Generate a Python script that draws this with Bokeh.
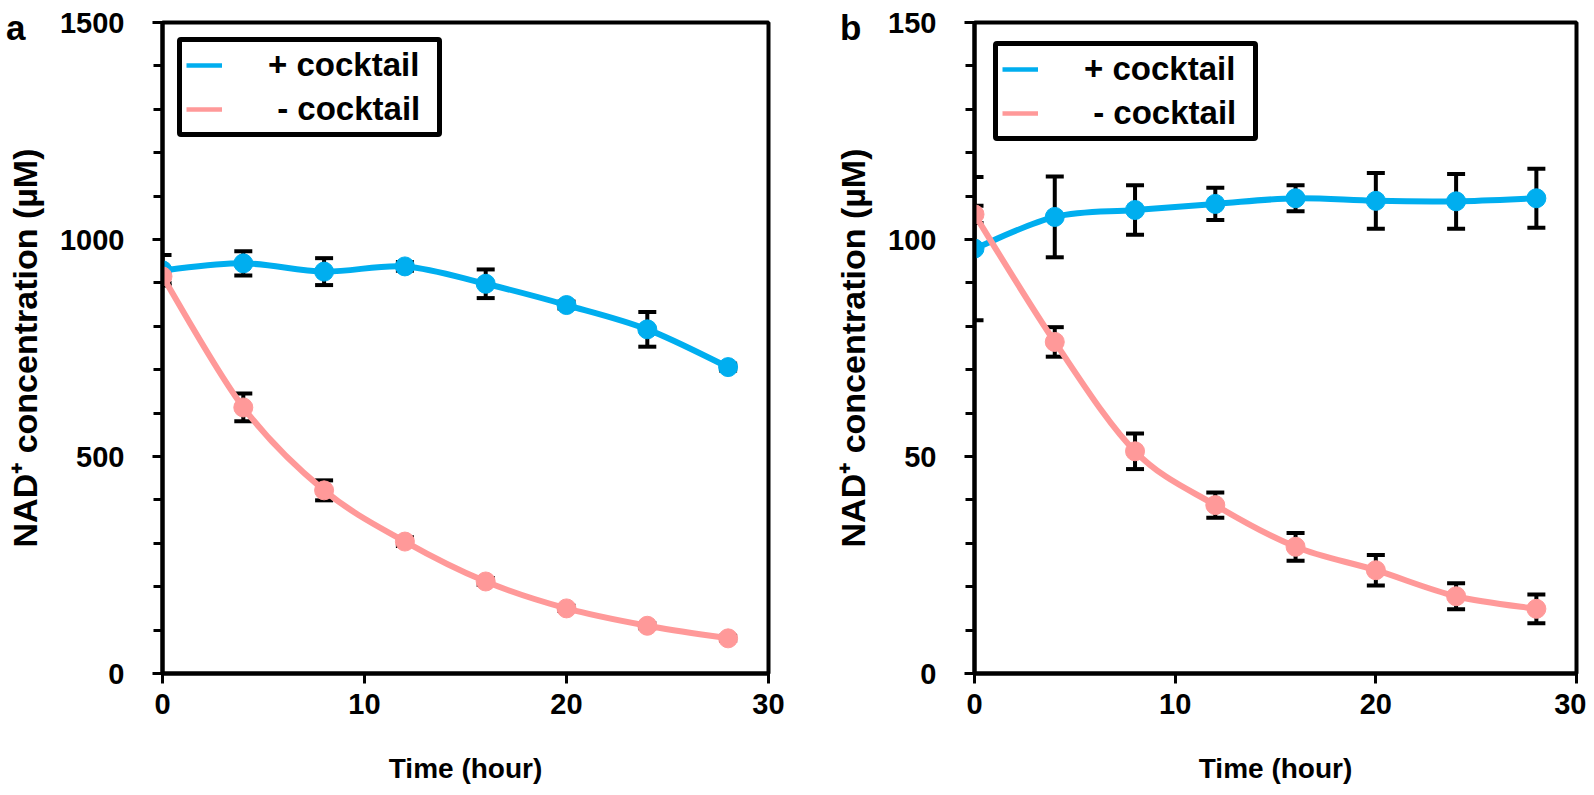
from bokeh.plotting import figure
from bokeh.models import (Range1d, SingleIntervalTicker, ColumnDataSource, Whisker, TeeHead,
                          Legend, LegendItem, Div)
from bokeh.layouts import row
from bokeh.embed import file_html
from bokeh.resources import INLINE

# ---------------- data ----------------
time_h = [0, 4, 8, 12, 16, 20, 24, 28]

a_plus = [929, 945, 926, 938, 898, 849, 793, 706]
a_plus_err = [35, 28, 31, 10, 33, 8, 40, 8]
a_minus = [915, 613, 422, 304, 212, 150, 110, 81]
a_minus_err = [15, 32, 23, 10, 8, 6, 6, 6]

b_plus = [97.9, 105.2, 106.8, 108.2, 109.5, 108.9, 108.8, 109.5]
b_plus_err = [16.5, 9.3, 5.7, 3.7, 3.0, 6.4, 6.3, 6.8]
b_minus = [105.8, 76.4, 51.2, 38.8, 29.2, 23.8, 17.8, 14.9]
b_minus_err = [2.0, 3.4, 4.1, 2.9, 3.2, 3.5, 3.0, 3.3]

panel_letters = ["a", "b"]
legend_labels = ["+ cocktail", "\u00a0- cocktail"]
x_label = "Time (hour)"
y_label = "NAD\u207a concentration (\u00b5M)"

BLUE = "#00AEEF"
PINK = "#FF9999"
FONT = "Liberation Sans"


def bezier_source(xs, ys):
    n = len(xs)
    d = dict(x0=[], y0=[], x1=[], y1=[], cx0=[], cy0=[], cx1=[], cy1=[])
    for i in range(n - 1):
        p0 = (xs[max(i - 1, 0)], ys[max(i - 1, 0)])
        p1 = (xs[i], ys[i])
        p2 = (xs[i + 1], ys[i + 1])
        p3 = (xs[min(i + 2, n - 1)], ys[min(i + 2, n - 1)])
        d["x0"].append(p1[0]); d["y0"].append(p1[1])
        d["x1"].append(p2[0]); d["y1"].append(p2[1])
        d["cx0"].append(p1[0] + (p2[0] - p0[0]) / 6.0)
        d["cy0"].append(p1[1] + (p2[1] - p0[1]) / 6.0)
        d["cx1"].append(p2[0] - (p3[0] - p1[0]) / 6.0)
        d["cy1"].append(p2[1] - (p3[1] - p1[1]) / 6.0)
    return ColumnDataSource(d)


def panel(ymax, yint, plus, plus_err, minus, minus_err, left_border, frame_w,
          right_border, legend_margin):
    p = figure(frame_width=frame_w, frame_height=651, output_backend="svg", toolbar_location=None,
               x_range=Range1d(0, 30), y_range=Range1d(0, ymax),
               min_border_left=left_border, min_border_right=right_border,
               min_border_top=22, min_border_bottom=114)
    p.grid.visible = False
    p.outline_line_color = "black"
    p.outline_line_width = 4
    p.outline_line_alpha = 1.0
    p.background_fill_color = "white"
    p.border_fill_color = "white"

    p.xaxis.ticker = SingleIntervalTicker(interval=10, num_minor_ticks=0)
    p.yaxis.ticker = SingleIntervalTicker(interval=yint, num_minor_ticks=5)
    for ax in (p.xaxis[0], p.yaxis[0]):
        ax.axis_line_width = 4
        ax.axis_line_color = "black"
        ax.major_tick_line_width = 3
        ax.minor_tick_line_width = 3
        ax.major_tick_in = 0
        ax.major_tick_out = 10
        ax.minor_tick_in = 0
        ax.minor_tick_out = 9
        ax.major_label_text_font = FONT
        ax.major_label_text_font_style = "bold"
        ax.major_label_text_font_size = "29px"
        ax.major_label_text_color = "black"
        ax.axis_label_text_font = FONT
        ax.axis_label_text_font_style = "bold"
        ax.axis_label_text_color = "black"
    p.xaxis.minor_tick_line_color = None
    p.xaxis.major_label_standoff = 10
    p.yaxis.major_label_standoff = 28
    p.xaxis.axis_label = x_label
    p.yaxis.axis_label = y_label
    p.xaxis.axis_label_text_font_size = "28px"
    p.yaxis.axis_label_text_font_size = "34px"
    p.xaxis.axis_label_standoff = 36
    p.yaxis.axis_label_standoff = 13

    series = [(plus, plus_err, BLUE), (minus, minus_err, PINK)]
    legend_renderers = []
    for vals, errs, col in series:
        src = ColumnDataSource(dict(x=time_h, y=vals,
                                    lo=[v - e for v, e in zip(vals, errs)],
                                    hi=[v + e for v, e in zip(vals, errs)]))
        w = Whisker(source=src, base="x", upper="hi", lower="lo", dimension="height",
                    line_color="black", line_width=4, level="underlay",
                    upper_head=TeeHead(size=18, line_width=4, line_color="black"),
                    lower_head=TeeHead(size=18, line_width=4, line_color="black"))
        p.add_layout(w)
    for vals, errs, col in series:
        p.bezier(x0="x0", y0="y0", x1="x1", y1="y1", cx0="cx0", cy0="cy0", cx1="cx1", cy1="cy1",
                 source=bezier_source(time_h, vals), line_color=col, line_width=6,
                 line_cap="round", line_join="round")
        p.scatter(time_h, vals, size=19, fill_color=col, line_color=col, line_width=1)
        legend_renderers.append(p.line(time_h, vals, line_color=col, line_width=4.5, visible=False))

    legend = Legend(items=[LegendItem(label=legend_labels[0], renderers=[legend_renderers[0]]),
                           LegendItem(label=legend_labels[1], renderers=[legend_renderers[1]])],
                    location="top_left", margin=legend_margin, padding=4, spacing=6,
                    glyph_width=36, glyph_height=38, label_height=38, label_standoff=46,
                    label_width=165,
                    label_text_font=FONT, label_text_font_style="bold", label_text_font_size="33px",
                    label_text_color="black", border_line_color="black", border_line_width=5,
                    border_line_alpha=1.0, border_radius=4,
                    background_fill_color="white", background_fill_alpha=1.0)
    p.add_layout(legend)
    return p


def letter_div(text, left):
    html = ('<span style="display:block;font-family:\'Liberation Sans\';font-weight:bold;'
            'font-size:35px;line-height:35px;color:black;margin:0;padding:0">' + text + '</span>')
    return Div(text=html, width=30, height=36,
               styles={"position": "absolute", "left": f"{left}px", "top": "10px",
                       "margin": "0", "padding": "0", "z-index": "10"})


pa = panel(1500, 500, a_plus, a_plus_err, a_minus, a_minus_err, 162, 606, 48, 15)
pb = panel(150, 50, b_plus, b_plus_err, b_minus, b_minus_err, 158, 602, 10, 19)

layout = row(pa, pb, letter_div(panel_letters[0], 6), letter_div(panel_letters[1], 840))
open("out.html", "w").write(file_html(layout, INLINE))
